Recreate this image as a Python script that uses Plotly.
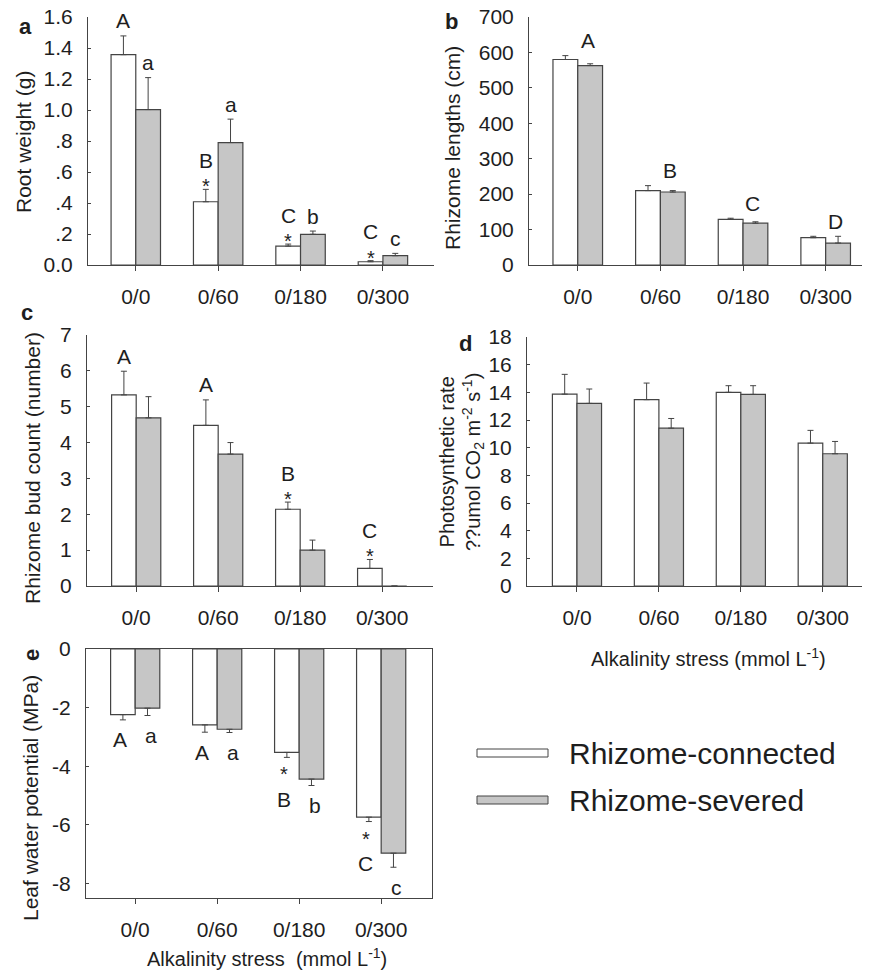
import plotly.graph_objects as go

# ---------------- data ----------------
categories = ["0/0", "0/60", "0/180", "0/300"]
series_names = ["Rhizome-connected", "Rhizome-severed"]

# a: root weight (g)
a_conn = [1.357, 0.408, 0.122, 0.021]
a_conn_err = [0.121, 0.080, 0.013, 0.007]
a_sev = [1.003, 0.790, 0.198, 0.060]
a_sev_err = [0.206, 0.151, 0.021, 0.015]
a_conn_letters = ["A", "B", "C", "C"]
a_conn_stars = [False, True, True, True]
a_sev_letters = ["a", "a", "b", "c"]
a_ticks = [0, 0.2, 0.4, 0.6, 0.8, 1.0, 1.2, 1.4, 1.6]
a_ticktext = ["0.0", ".2", ".4", ".6", ".8", "1.0", "1.2", "1.4", "1.6"]

# b: rhizome lengths (cm)
b_conn = [580, 210, 129, 77]
b_conn_err = [11, 14, 3, 4]
b_sev = [563, 206, 118, 62]
b_sev_err = [5, 4, 4, 19]
b_letters = ["A", "B", "C", "D"]
b_ticks = [0, 100, 200, 300, 400, 500, 600, 700]

# c: rhizome bud count
c_conn = [5.33, 4.48, 2.14, 0.49]
c_conn_err = [0.66, 0.71, 0.20, 0.25]
c_sev = [4.69, 3.68, 1.00, 0.0]
c_sev_err = [0.59, 0.32, 0.28, 0.0]
c_conn_letters = ["A", "A", "B", "C"]
c_conn_stars = [False, False, True, True]
c_ticks = [0, 1, 2, 3, 4, 5, 6, 7]

# d: photosynthetic rate
d_conn = [13.87, 13.47, 14.00, 10.33]
d_conn_err = [1.43, 1.20, 0.48, 0.92]
d_sev = [13.20, 11.41, 13.85, 9.56]
d_sev_err = [1.04, 0.70, 0.63, 0.89]
d_ticks = [0, 2, 4, 6, 8, 10, 12, 14, 16, 18]

# e: leaf water potential (MPa)
e_conn = [-2.24, -2.59, -3.53, -5.74]
e_conn_err = [0.18, 0.25, 0.17, 0.15]
e_sev = [-2.02, -2.74, -4.44, -6.97]
e_sev_err = [0.25, 0.11, 0.22, 0.48]
e_conn_letters = ["A", "A", "B", "C"]
e_conn_stars = [False, False, True, True]
e_sev_letters = ["a", "a", "b", "c"]
e_ticks = [0, -2, -4, -6, -8]
e_ticktext = ["0", "-2", "-4", "-6", "-8"]

# ---------------- style ----------------
FONT = "Liberation Sans, Arial, sans-serif"
TXT = "#1e1e1e"
LINE = "#444444"
WHITE = "#ffffff"
GREY = "#c6c6c6"
# page body has an 8px margin; the figure is sized/positioned to compensate
OFFS = 8
W, H = 870 - OFFS, 972 - OFFS


def px(x0, x1):
    return [(x0 - OFFS) / W, (x1 - OFFS) / W]


def py(ytop, ybot):
    return [1 - (ybot - OFFS) / H, 1 - (ytop - OFFS) / H]


fig = go.Figure()
xpos = list(range(len(categories)))

panels = [
    ("", a_conn, a_conn_err, a_sev, a_sev_err, False),
    ("2", b_conn, b_conn_err, b_sev, b_sev_err, False),
    ("3", c_conn, c_conn_err, c_sev, c_sev_err, False),
    ("4", d_conn, d_conn_err, d_sev, d_sev_err, False),
    ("5", e_conn, e_conn_err, e_sev, e_sev_err, True),
]

for sfx, conn, cerr, sev, serr, neg in panels:
    for name, vals, errs, col in [(series_names[0], conn, cerr, WHITE),
                                  (series_names[1], sev, serr, GREY)]:
        if neg:
            ey = dict(type="data", symmetric=False, array=[0] * 4, arrayminus=errs,
                      color=LINE, thickness=1, width=3)
        else:
            ey = dict(type="data", symmetric=False, array=errs, arrayminus=[0] * 4,
                      color=LINE, thickness=1, width=3)
        fig.add_trace(go.Bar(
            x=xpos, y=vals, name=name, showlegend=False,
            marker=dict(color=col, line=dict(color=LINE, width=1.2)),
            error_y=ey, xaxis="x" + sfx, yaxis="y" + sfx,
        ))

tickfont = dict(family=FONT, size=21, color=TXT)


def xax(domain, rng, anchor, mirror=False):
    return dict(domain=domain, range=rng, anchor=anchor, tickvals=xpos, ticktext=categories,
                showline=True, linecolor=LINE, linewidth=1, mirror=mirror,
                ticks="outside", ticklen=5, tickcolor=LINE, tickfont=tickfont,
                ticklabelstandoff=8, ticklabeloverflow="allow",
                showgrid=False, zeroline=False, fixedrange=True, automargin=False)


def yax(domain, rng, anchor, tickvals, ticktext=None, mirror=False):
    d = dict(domain=domain, range=rng, anchor=anchor, tickvals=tickvals,
             showline=True, linecolor=LINE, linewidth=1, mirror=mirror,
             ticks="inside", ticklen=3, tickcolor=LINE, tickfont=tickfont,
             ticklabelstandoff=10, ticklabeloverflow="allow",
             showgrid=False, zeroline=False, fixedrange=True, automargin=False)
    if ticktext is not None:
        d["ticktext"] = ticktext
    return d


fig.update_layout(
    template="none",
    width=W, height=H, autosize=False,
    margin=dict(l=0, r=0, t=0, b=0, pad=0),
    paper_bgcolor="white", plot_bgcolor="white",
    barmode="group", bargap=0.4, bargroupgap=0,
    font=dict(family=FONT, color=TXT),
    showlegend=False,
    xaxis=xax(px(88, 434), [-0.58, 3.62], "y"),
    yaxis=yax(py(17, 265), [0, 1.6], "x", a_ticks, a_ticktext),
    xaxis2=xax(px(529, 867), [-0.59, 3.5], "y2"),
    yaxis2=yax(py(17, 265), [0, 700], "x2", b_ticks),
    xaxis3=xax(px(87, 433), [-0.6, 3.62], "y3"),
    yaxis3=yax(py(335, 586), [0, 7], "x3", c_ticks),
    xaxis4=xax(px(527, 867), [-0.61, 3.54], "y4"),
    yaxis4=yax(py(337, 586), [0, 18], "x4", d_ticks),
    xaxis5=xax(px(86, 432), [-0.6, 3.62], "y5", mirror=True),
    yaxis5=yax(py(649, 898), [-8.5, 0], "x5", e_ticks, e_ticktext, mirror=True),
)

ann = []
LF = dict(family=FONT, size=21, color=TXT)
SF = dict(family=FONT, size=20, color=TXT)
OFF = 0.15


def add_above(sfx, x, ytop, letter, star):
    if star:
        ann.append(dict(x=x, y=ytop, xref="x" + sfx, yref="y" + sfx, text="*", showarrow=False,
                        font=SF, yanchor="middle", yshift=3))
        ann.append(dict(x=x, y=ytop, xref="x" + sfx, yref="y" + sfx, text=letter, showarrow=False,
                        font=LF, yanchor="middle", yshift=29))
    else:
        ann.append(dict(x=x, y=ytop, xref="x" + sfx, yref="y" + sfx, text=letter, showarrow=False,
                        font=LF, yanchor="middle", yshift=15))


def add_below(sfx, x, ybot, letter, star):
    if star:
        ann.append(dict(x=x, y=ybot, xref="x" + sfx, yref="y" + sfx, text="*", showarrow=False,
                        font=SF, yanchor="middle", yshift=-17))
        ann.append(dict(x=x, y=ybot, xref="x" + sfx, yref="y" + sfx, text=letter, showarrow=False,
                        font=LF, yanchor="middle", yshift=-42))
    else:
        ann.append(dict(x=x, y=ybot, xref="x" + sfx, yref="y" + sfx, text=letter, showarrow=False,
                        font=LF, yanchor="middle", yshift=-20))


for k in range(4):
    add_above("", k - OFF, a_conn[k] + a_conn_err[k], a_conn_letters[k], a_conn_stars[k])
    add_above("", k + OFF, a_sev[k] + a_sev_err[k], a_sev_letters[k], False)
    top = max(b_conn[k] + b_conn_err[k], b_sev[k] + b_sev_err[k])
    add_above("2", k + 0.12, top, b_letters[k], False)
    add_above("3", k - OFF, c_conn[k] + c_conn_err[k], c_conn_letters[k], c_conn_stars[k])
    add_below("5", k - OFF - 0.04, e_conn[k] - e_conn_err[k], e_conn_letters[k], e_conn_stars[k])
    add_below("5", k + OFF + 0.04, e_sev[k] - e_sev_err[k], e_sev_letters[k], False)


def paper_text(x, y, text, size, angle=0, bold=False, xanchor="center", align="center"):
    t = "<b>%s</b>" % text if bold else text
    ann.append(dict(x=(x - OFFS) / W, y=1 - (y - OFFS) / H, xref="paper", yref="paper", text=t,
                    showarrow=False, textangle=angle, xanchor=xanchor, yanchor="middle",
                    align=align, font=dict(family=FONT, size=size, color=TXT)))


# panel letters
paper_text(25, 26, "a", 22, bold=True)
paper_text(452, 22, "b", 22, bold=True)
paper_text(27, 312, "c", 22, bold=True)
paper_text(465, 343, "d", 22, bold=True)
paper_text(31, 655, "e", 22, angle=-90, bold=True)

# axis titles
paper_text(24, 142, "Root weight (g)", 21, angle=-90)
paper_text(452, 148, "Rhizome lengths (cm)", 21, angle=-90)
paper_text(32, 468, "Rhizome bud count (number)", 21, angle=-90)
paper_text(461, 462, "Photosynthetic rate<br>??umol CO<sub>2</sub> m<sup>-2</sup> s<sup>-1</sup>)", 20, angle=-90)
paper_text(30, 798, "Leaf water potential (MPa)", 21, angle=-90)
paper_text(708, 657, "Alkalinity stress (mmol L<sup>-1</sup>)", 20)
paper_text(267, 957, "Alkalinity stress  (mmol L<sup>-1</sup>)", 20)

# legend
legend_rows = [(753, WHITE), (800, GREY)]
shapes = []
for (yc, col), name in zip(legend_rows, series_names):
    shapes.append(dict(type="rect", xref="paper", yref="paper",
                       x0=(477 - OFFS) / W, x1=(548 - OFFS) / W,
                       y0=1 - (yc + 4 - OFFS) / H, y1=1 - (yc - 4 - OFFS) / H,
                       fillcolor=col, line=dict(color=LINE, width=1)))
    paper_text(567, yc, name, 30, xanchor="left", align="left")

fig.update_layout(annotations=ann, shapes=shapes)
fig.write_html("out.html")
